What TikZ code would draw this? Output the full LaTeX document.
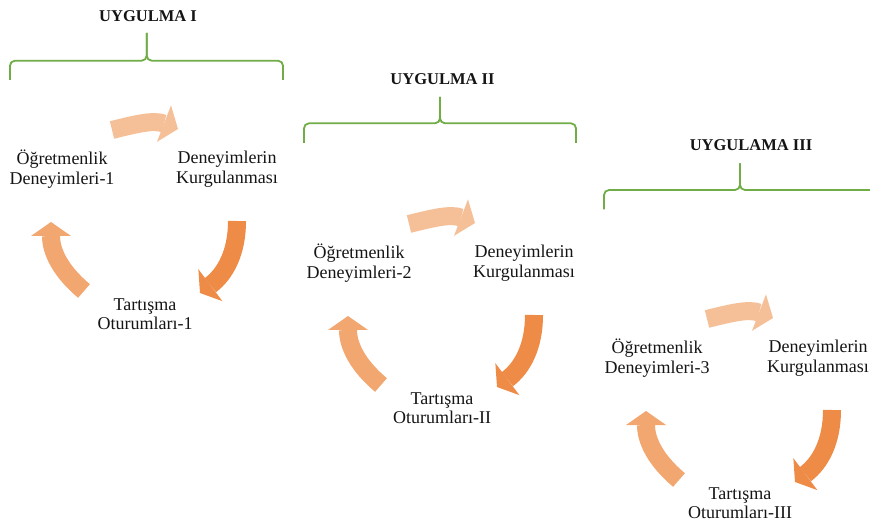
\documentclass[tikz,border=0pt]{standalone}
\usepackage{fontspec}
\setmainfont{Liberation Serif}
\usetikzlibrary{arrows.meta}
\definecolor{arTop}{HTML}{F5BF97}
\definecolor{arRight}{HTML}{EE8B47}
\definecolor{arLeft}{HTML}{F2A771}
\definecolor{braceGreen}{HTML}{70AD47}
\definecolor{txt}{HTML}{151515}
\tikzset{
  lab/.style={align=center, font=\fontsize{18}{19.5}\selectfont, inner sep=0pt, text=txt},
  ttl/.style={font=\fontsize{16.5}{18}\selectfont\bfseries, inner sep=0pt, text=txt},
  brc/.style={draw=braceGreen, line width=1.8pt, rounded corners=5pt},
  cycarrow/.style={line width=18pt},
}
\newcommand\mybrace[6]{%
  \draw[brc] (#1,#6) -- (#1,#5) -- (#3,#5) -- (#3,#4);
  \draw[brc] (#2,#6) -- (#2,#5) -- (#3,#5) -- (#3,#4);}
\newcommand\mycycle[6]{%
  \begin{scope}[shift={(#2,#3)}]
    \node[lab] (o#1) at (359,263) {Öğretmenlik\\Deneyimleri-#4};
    \node[lab] (d#1) at (#6,263) {Deneyimlerin\\Kurgulanması};
    \node[lab] (t#1) at (442,408) {Tartışma\\Oturumları-#5};
    \coordinate (at#1s) at (409,224);
    \coordinate (at#1e) at (475,223);
    \coordinate (ar#1s) at (534,315);
    \coordinate (ar#1e) at (497,387);
    \coordinate (al#1s) at (381,385);
    \coordinate (al#1e) at (348,316);
    \draw[cycarrow, arTop, -{Triangle[length=15pt,width=39pt,line width=0pt]}]
      (at#1s) to[out=14,in=159] (at#1e);
    \draw[cycarrow, arRight, -{Triangle[length=13pt,width=40pt,line width=0pt]}]
      (ar#1s) to[out=-90,in=37] (ar#1e);
    \draw[cycarrow, arLeft, -{Triangle[length=14pt,width=40pt,line width=0pt]}]
      (al#1s) to[out=140,in=-90] (al#1e);
  \end{scope}}
\begin{document}
\begin{tikzpicture}[x=1pt,y=-1pt]
  \clip (0,0) rectangle (870,526);
  \fill[white] (0,0) rectangle (870,526);
  % titles
  \node[ttl] (u1) at (148,16) {UYGULMA I};
  \node[ttl] (u2) at (442.5,79) {UYGULMA II};
  \node[ttl] (u3) at (751,145) {UYGULAMA III};
  % braces
  \mybrace{10}{283}{146.7}{33}{60.7}{80}
  \mybrace{304}{576}{440}{97}{123.3}{143}
  \mybrace{604}{877}{740}{163.3}{190}{209.3}
  % cycles
  \mycycle{1}{-297}{-94}{1}{1}{524}
  \mycycle{2}{0}{0}{2}{II}{524}
  \mycycle{3}{298}{95}{3}{III}{520}
\end{tikzpicture}
\end{document}
